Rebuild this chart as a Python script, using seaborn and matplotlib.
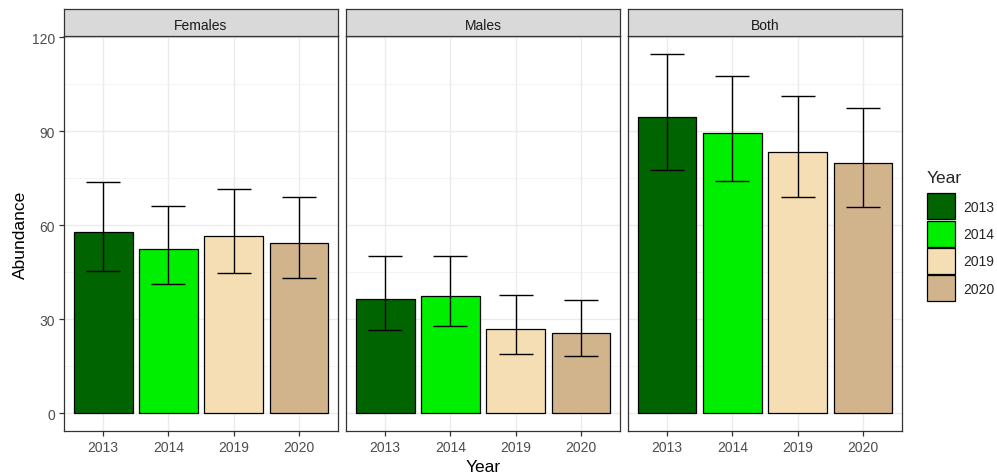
import matplotlib
matplotlib.use("Agg")
import matplotlib.pyplot as plt
from matplotlib.patches import Patch
import numpy as np
import pandas as pd
import seaborn as sns

# Mean abundance with lower / upper confidence limits, per group and survey year
years = ["2013", "2014", "2019", "2020"]
groups = ["Females", "Males", "Both"]

females_mean = [57.8, 52.2, 56.6, 54.4]
females_low = [45.2, 41.1, 44.8, 43.0]
females_high = [73.8, 66.1, 71.5, 68.8]

males_mean = [36.5, 37.3, 26.7, 25.6]
males_low = [26.6, 27.7, 19.0, 18.2]
males_high = [50.2, 50.2, 37.8, 36.2]

both_mean = [94.4, 89.4, 83.3, 79.9]
both_low = [77.5, 74.1, 68.8, 65.8]
both_high = [114.6, 107.6, 101.2, 97.5]

year_colors = ["#006400", "#00EE00", "#F5DEB3", "#D2B48C"]
y_ticks = [0, 30, 60, 90, 120]

means = {"Females": females_mean, "Males": males_mean, "Both": both_mean}
lows = {"Females": females_low, "Males": males_low, "Both": both_low}
highs = {"Females": females_high, "Males": males_high, "Both": both_high}

rows = []
for g in groups:
    for i, yr in enumerate(years):
        rows.append({"Group": g, "Year": yr, "Abundance": means[g][i],
                     "Low": lows[g][i], "High": highs[g][i]})
df = pd.DataFrame(rows)

sns.set_theme(style="white")
plt.rcParams["font.family"] = ["Liberation Sans", "DejaVu Sans"]

W, H = 997, 477
fig = plt.figure(figsize=(W / 100, H / 100), dpi=100)

panel_lefts = [64, 346, 628]
panel_w = 274
plot_top, plot_bottom = 37, 432
strip_top = 10

palette = dict(zip(years, year_colors))
all_high = max(max(v) for v in highs.values())
ymin, ymax = -0.05 * all_high, all_high * 1.05

for k, g in enumerate(groups):
    x0 = panel_lefts[k]
    ax = fig.add_axes([x0 / W, 1 - plot_bottom / H, panel_w / W, (plot_bottom - plot_top) / H])
    sub = df[df["Group"] == g]
    sns.barplot(data=sub, x="Year", y="Abundance", hue="Year", order=years,
                hue_order=years, palette=palette, saturation=1, width=0.9,
                edgecolor="black", linewidth=0.9, errorbar=None, legend=False,
                dodge=False, ax=ax, zorder=2)
    xs = np.arange(len(years))
    m = sub["Abundance"].to_numpy()
    yerr = np.vstack([m - sub["Low"].to_numpy(), sub["High"].to_numpy() - m])
    ax.errorbar(xs, m, yerr=yerr, fmt="none", ecolor="black", elinewidth=1.0,
                capsize=11.9, capthick=1.0, zorder=3)

    ax.set_xlim(-0.6, 3.6)
    ax.set_ylim(ymin, ymax)
    ax.set_yticks(y_ticks)
    ax.set_yticks([15, 45, 75, 105], minor=True)
    ax.set_facecolor("white")
    ax.grid(True, which="major", color="#EBEBEB", linewidth=1.0, zorder=0)
    ax.grid(True, which="minor", axis="y", color="#F2F2F2", linewidth=0.6, zorder=0)
    ax.set_axisbelow(True)
    for s in ax.spines.values():
        s.set_visible(True)
        s.set_color("#333333")
        s.set_linewidth(0.9)
    ax.tick_params(axis="both", which="major", length=3.5, width=0.9, color="#333333",
                   labelsize=10, labelcolor="#4D4D4D", pad=3, bottom=True, left=(k == 0))
    ax.tick_params(axis="both", which="minor", length=0)
    ax.set_xlabel("")
    ax.set_ylabel("")
    if k != 0:
        ax.set_yticklabels([])
    else:
        ax.set_ylabel("Abundance", fontsize=12.5, color="black", labelpad=2.5)
    if k == 1:
        ax.set_xlabel("Year", fontsize=12.5, color="black", labelpad=3.5)

    # facet strip
    sax = fig.add_axes([x0 / W, 1 - plot_top / H, panel_w / W, (plot_top - strip_top) / H])
    sax.set_facecolor("#D9D9D9")
    sax.set_xticks([])
    sax.set_yticks([])
    for s in sax.spines.values():
        s.set_visible(True)
        s.set_color("#333333")
        s.set_linewidth(0.9)
    sax.text(0.5, 0.4, g, ha="center", va="center", fontsize=10, color="#1A1A1A",
             transform=sax.transAxes)

handles = [Patch(facecolor=c, edgecolor="black", linewidth=0.9, label=y)
           for y, c in zip(years, year_colors)]
leg = fig.legend(handles=handles, title="Year", loc="upper left",
                 bbox_to_anchor=(927 / W, 1 - 171 / H), frameon=False,
                 fontsize=10, title_fontsize=12.5, handlelength=2.0,
                 handleheight=2.5, labelspacing=0.1, handletextpad=0.6,
                 borderaxespad=0, borderpad=0)
leg._legend_box.align = "left"
leg._legend_box.sep = 6

fig.savefig("out.png", dpi=100)
